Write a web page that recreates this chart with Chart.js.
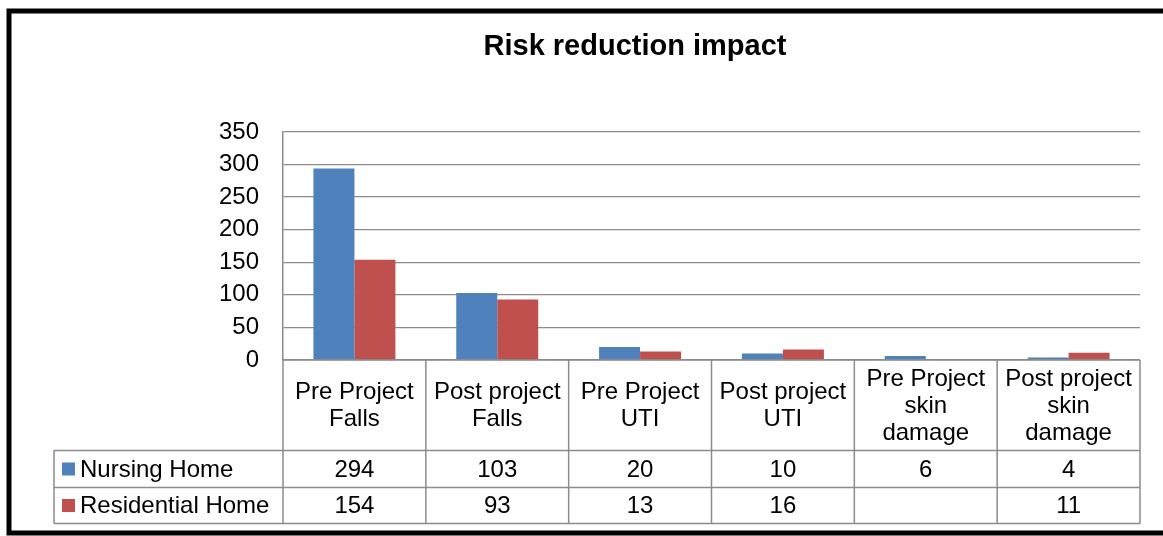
<!DOCTYPE html>
<html>
<head>
<meta charset="utf-8">
<script src="https://cdn.jsdelivr.net/npm/chart.js@4/dist/chart.umd.min.js"></script>
<style>
html,body{margin:0;padding:0;background:#fff;}
canvas{display:block;}
</style>
</head>
<body>
<canvas id="c" width="1163" height="536"></canvas>
<script>
const chartTitle = "Risk reduction impact";
const categories = [
  ["Pre Project", "Falls"],
  ["Post project", "Falls"],
  ["Pre Project", "UTI"],
  ["Post project", "UTI"],
  ["Pre Project", "skin", "damage"],
  ["Post project", "skin", "damage"]
];
const seriesNames = ["Nursing Home", "Residential Home"];
const nursingHome = [294, 103, 20, 10, 6, 4];
const residentialHome = [154, 93, 13, 16, null, 11];
const yTicks = [0, 50, 100, 150, 200, 250, 300, 350];
const seriesColors = ["#4F81BD", "#C0504D"];

const FONT = '"Liberation Sans", Arial, sans-serif';
const GRID = "#8c8c8c";

const tablePlugin = {
  id: "tablePlugin",
  beforeDraw(chart) {
    const ctx = chart.ctx;
    ctx.save();
    ctx.fillStyle = "#fff";
    ctx.fillRect(0, 0, chart.width, chart.height);
    ctx.restore();
  },
  afterDraw(chart) {
    const ctx = chart.ctx;
    const area = chart.chartArea;
    const xs = chart.scales.x;
    const n = categories.length;
    const colW = (area.right - area.left) / n;
    const bounds = [];
    for (let i = 0; i <= n; i++) bounds.push(area.left + colW * i);
    const centers = categories.map((_, i) => {
      const p = xs && isFinite(xs.getPixelForValue(i)) ? xs.getPixelForValue(i) : area.left + colW * (i + 0.5);
      return p;
    });
    const rowTop = area.bottom;
    const catBottom = rowTop + 90.5;
    const row1Bottom = catBottom + 37;
    const row2Bottom = row1Bottom + 36;
    const legendLeft = 54;

    ctx.save();
    ctx.strokeStyle = GRID;
    ctx.lineWidth = 1.5;
    ctx.beginPath();
    ctx.moveTo(area.left, rowTop); ctx.lineTo(area.right, rowTop);
    ctx.moveTo(legendLeft, catBottom); ctx.lineTo(area.right, catBottom);
    ctx.moveTo(legendLeft, row1Bottom); ctx.lineTo(area.right, row1Bottom);
    ctx.moveTo(legendLeft, row2Bottom); ctx.lineTo(area.right, row2Bottom);
    for (let i = 0; i <= n; i++) {
      ctx.moveTo(bounds[i], rowTop); ctx.lineTo(bounds[i], row2Bottom);
    }
    ctx.moveTo(legendLeft, catBottom); ctx.lineTo(legendLeft, row2Bottom);
    ctx.stroke();

    ctx.fillStyle = "#000";
    ctx.font = "24px " + FONT;
    ctx.textAlign = "center";
    ctx.textBaseline = "middle";
    const lh = 27;
    categories.forEach((lines, i) => {
      const cy = (rowTop + catBottom) / 2 + 1;
      const start = cy - (lines.length - 1) * lh / 2;
      lines.forEach((t, j) => ctx.fillText(t, centers[i], start + j * lh));
    });

    const rows = [nursingHome, residentialHome];
    const rowMid = [(catBottom + row1Bottom) / 2, (row1Bottom + row2Bottom) / 2];
    rows.forEach((vals, r) => {
      ctx.textAlign = "center";
      vals.forEach((v, i) => {
        if (v !== null && v !== undefined) ctx.fillText(String(v), centers[i], rowMid[r] + 1);
      });
      ctx.fillStyle = seriesColors[r];
      ctx.fillRect(62, rowMid[r] - 6.5, 13, 13);
      ctx.fillStyle = "#000";
      ctx.textAlign = "left";
      ctx.fillText(seriesNames[r], 80, rowMid[r] + 1);
    });

    ctx.font = "bold 29px " + FONT;
    ctx.textAlign = "center";
    ctx.fillText(chartTitle, 635, 47);

    ctx.strokeStyle = "#000";
    ctx.lineWidth = 5;
    ctx.strokeRect(9, 11, chart.width + 20, 522);
    ctx.restore();
  }
};

new Chart(document.getElementById("c"), {
  type: "bar",
  data: {
    labels: categories,
    datasets: [
      { label: seriesNames[0], data: nursingHome, backgroundColor: seriesColors[0], borderWidth: 0 },
      { label: seriesNames[1], data: residentialHome, backgroundColor: seriesColors[1], borderWidth: 0 }
    ]
  },
  options: {
    responsive: false,
    animation: false,
    devicePixelRatio: 1,
    layout: { padding: { left: 0, right: 23, top: 132, bottom: 176 } },
    datasets: { bar: { categoryPercentage: 0.574, barPercentage: 1.0 } },
    plugins: {
      legend: { display: false },
      title: { display: false },
      tooltip: { enabled: false }
    },
    scales: {
      x: { display: false },
      y: {
        min: 0,
        max: 350,
        afterFit(scale) { scale.width = 283; },
        afterBuildTicks(scale) { scale.ticks = yTicks.map(v => ({ value: v })); },
        ticks: {
          padding: 24,
          color: "#000",
          font: { family: FONT, size: 24 }
        },
        grid: { color: GRID, lineWidth: 1.3, drawTicks: false },
        border: { display: true, color: GRID, width: 1.5 }
      }
    }
  },
  plugins: [tablePlugin]
});
</script>
</body>
</html>
